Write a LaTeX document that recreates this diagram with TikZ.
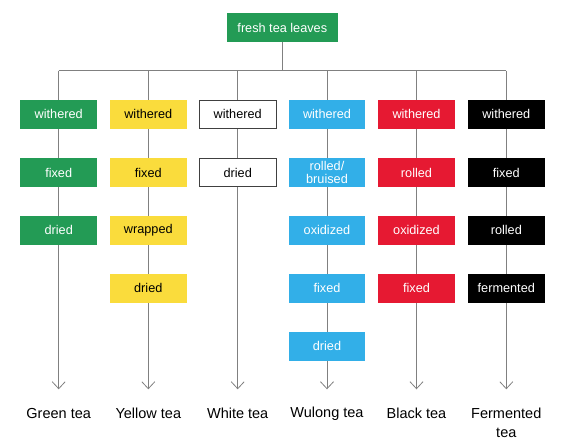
\documentclass[tikz,border=0pt]{standalone}
\usepackage{fontspec}
\setmainfont{Liberation Sans}
\usepackage{tikz}
\usetikzlibrary{positioning}
\usetikzlibrary{arrows.meta}
\definecolor{teagreen}{RGB}{35,155,85}
\definecolor{teayellow}{RGB}{250,220,60}
\definecolor{teablue}{RGB}{50,175,232}
\definecolor{teared}{RGB}{230,25,50}
\definecolor{linegray}{RGB}{128,128,128}
\tikzset{
    box/.style = {rectangle, inner sep=0pt, minimum width=76.5pt, minimum height=28.7pt, align=center, font=\fontsize{12.7}{12.5}\selectfont},
    boxg/.style = {box, fill=teagreen, text=white},
    boxy/.style = {box, fill=teayellow, text=black},
    boxw/.style = {box, draw=black!75, line width=0.8pt, fill=white, text=black},
    boxb/.style = {box, fill=teablue, text=white},
    boxr/.style = {box, fill=teared, text=white},
    boxk/.style = {box, fill=black, text=white},
    teanode/.style = {align=center, inner sep=0pt, font=\fontsize{14.5}{18.5}\selectfont},
    edgen/.style = {line width=0.8pt, draw=linegray},
    edgea/.style = {-{Straight Barb[length=7pt,width=13pt,line width=0.8pt]}, line width=0.8pt, draw=linegray},
}

\begin{document}
\begin{tikzpicture}[x=1pt,y=-1pt]
\useasboundingbox (0,0) rectangle (568,446);
%
\node[boxg, minimum width=110.6pt] at (282.3, 27.7) (fresh) {fresh tea leaves};
\coordinate (bus0) at (282.3, 70.7);
\coordinate (bus1) at (58.7, 70.7);
\coordinate (bus2) at (148.3, 70.7);
\coordinate (bus3) at (237.7, 70.7);
\coordinate (bus4) at (327.0, 70.7);
\coordinate (bus5) at (416.5, 70.7);
\coordinate (bus6) at (506.3, 70.7);
%
\node[boxg] at (58.7, 114.3) (g1) {withered};
\node[boxg] at (58.7, 172.5) (g2) {fixed};
\node[boxg] at (58.7, 230.4) (g3) {dried};
%
\node[boxy] at (148.3, 114.3) (y1) {withered};
\node[boxy] at (148.3, 172.5) (y2) {fixed};
\node[boxy] at (148.3, 230.4) (y3) {wrapped};
\node[boxy] at (148.3, 288.4) (y4) {dried};
%
\node[boxw] at (237.7, 114.3) (w1) {withered};
\node[boxw] at (237.7, 172.5) (w2) {dried};
%
\node[boxb] at (327.0, 114.3) (u1) {withered};
\node[boxb] at (327.0, 172.5) (u2) {rolled/\\bruised};
\node[boxb] at (327.0, 230.4) (u3) {oxidized};
\node[boxb] at (327.0, 288.4) (u4) {fixed};
\node[boxb] at (327.0, 346.4) (u5) {dried};
%
\node[boxr] at (416.5, 114.3) (b1) {withered};
\node[boxr] at (416.5, 172.5) (b2) {rolled};
\node[boxr] at (416.5, 230.4) (b3) {oxidized};
\node[boxr] at (416.5, 288.4) (b4) {fixed};
%
\node[boxk] at (506.3, 114.3) (f1) {withered};
\node[boxk] at (506.3, 172.5) (f2) {fixed};
\node[boxk] at (506.3, 230.4) (f3) {rolled};
\node[boxk] at (506.3, 288.4) (f4) {fermented};
%
\coordinate (gend) at (58.7, 389.3);
\coordinate (yend) at (148.3, 389.3);
\coordinate (wend) at (237.7, 389.3);
\coordinate (uend) at (327.0, 389.3);
\coordinate (bend) at (416.5, 389.3);
\coordinate (fend) at (506.3, 389.3);
%
\node[teanode] at (58.7, 413.3) (gtea) {Green tea};
\node[teanode] at (148.3, 413.3) (ytea) {Yellow tea};
\node[teanode] at (237.7, 413.3) (wtea) {White tea};
\node[teanode] at (327.0, 413.3) (utea) {Wulong tea};
\node[teanode] at (416.5, 413.3) (btea) {Black tea};
\node[teanode, anchor=north] at (506.3, 408.0) (ftea) {Fermented\\tea};
%
\draw[edgen] (fresh) -- (bus0);
\draw[edgen] (bus1) -- (bus6);
\draw[edgen] (bus1) -- (g1) (g1) -- (g2) (g2) -- (g3);
\draw[edgen] (bus2) -- (y1) (y1) -- (y2) (y2) -- (y3) (y3) -- (y4);
\draw[edgen] (bus3) -- (w1) (w1) -- (w2);
\draw[edgen] (bus4) -- (u1) (u1) -- (u2) (u2) -- (u3) (u3) -- (u4) (u4) -- (u5);
\draw[edgen] (bus5) -- (b1) (b1) -- (b2) (b2) -- (b3) (b3) -- (b4);
\draw[edgen] (bus6) -- (f1) (f1) -- (f2) (f2) -- (f3) (f3) -- (f4);
%
\draw[edgea] (g3) -- (gend);
\draw[edgea] (y4) -- (yend);
\draw[edgea] (w2) -- (wend);
\draw[edgea] (u5) -- (uend);
\draw[edgea] (b4) -- (bend);
\draw[edgea] (f4) -- (fend);

\end{tikzpicture}
\end{document}
